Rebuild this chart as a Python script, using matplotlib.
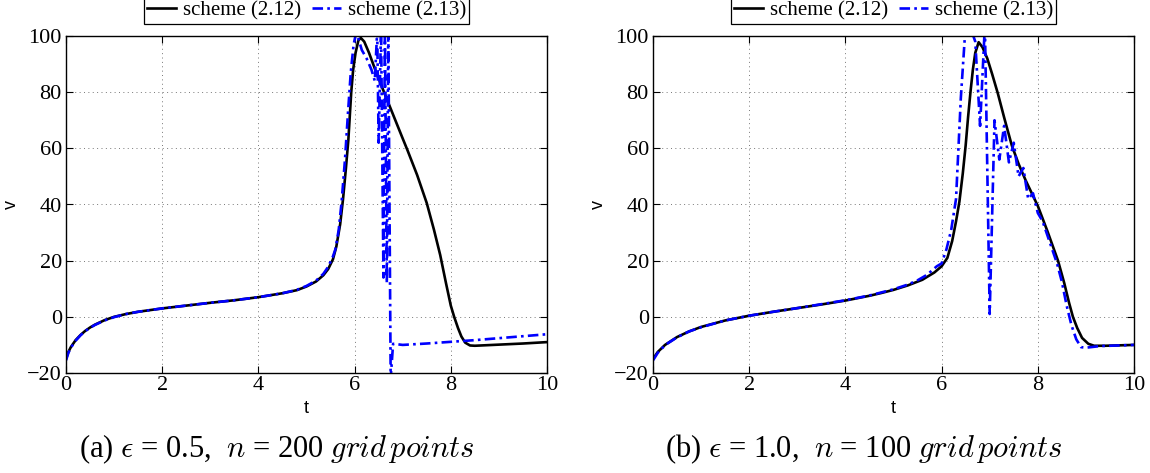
import matplotlib
matplotlib.use('Agg')
import matplotlib.pyplot as plt

plt.rcParams['font.family'] = ['Liberation Serif', 'DejaVu Serif']
plt.rcParams['mathtext.fontset'] = 'cm'

# panel (a): eps = 0.5, n = 200
t_a_212 = [0, 0.05, 0.1, 0.2, 0.3, 0.4, 0.5, 0.6, 0.8, 1.0, 1.25, 1.5, 2.0, 2.5, 3.0, 3.5, 4.0,
           4.5, 4.8, 5.0, 5.2, 5.35, 5.45, 5.55, 5.62, 5.7, 5.76, 5.82, 5.87, 5.93, 5.97, 6.02,
           6.08, 6.13, 6.2, 6.3, 6.45, 6.6, 6.8, 7.0, 7.1, 7.3, 7.5, 7.65, 7.78, 7.9, 8.0, 8.07,
           8.15, 8.22, 8.3, 8.4, 8.5, 9.0, 9.5, 10]
v_a_212 = [-15, -12.5, -10.8, -8.3, -6.5, -5.0, -3.8, -2.8, -1.2, 0.0, 1.0, 1.8, 3.0, 4.0, 5.0, 5.9, 7.0,
           8.4, 9.5, 10.8, 12.6, 14.8, 17, 20.5, 25, 33, 42, 53, 63, 80, 88, 94,
           98.5, 99.3, 98, 94, 87, 80.5, 72, 63.5, 59.3, 50.5, 40.5, 31, 22, 12, 4, 0,
           -4, -7, -9.2, -10.2, -10.3, -9.9, -9.5, -9.0]

t_a_213 = [0, 0.05, 0.1, 0.2, 0.3, 0.4, 0.5, 0.6, 0.8, 1.0, 1.25, 1.5, 2.0, 2.5, 3.0, 3.5, 4.0,
           4.5, 4.8, 5.0, 5.2, 5.35, 5.45, 5.55, 5.6, 5.67, 5.73, 5.8, 5.86, 5.92, 5.98, 6.03,
           6.08, 6.15, 6.25, 6.35, 6.42, 6.47, 6.5, 6.55, 6.6, 6.63, 6.67, 6.7, 6.75, 6.8,
           7.0, 7.5, 8.0, 8.5, 9.0, 9.5, 10]
v_a_213 = [-15.5, -12.8, -11.0, -8.5, -6.6, -5.1, -3.9, -2.9, -1.3, -0.1, 1.0, 1.8, 3.0, 4.0, 5.0, 5.9, 7.0,
           8.4, 9.6, 11.0, 12.9, 15.3, 17.8, 21.5, 24, 31, 41, 56, 72, 87, 97, 101,
           99, 95, 92, 88, 84, 102, 62, 103, 14, 104, 12, 104, -22, -9.6,
           -10, -9.5, -8.9, -8.3, -7.6, -6.9, -6.2]

# panel (b): eps = 1.0, n = 100
t_b_212 = [0, 0.1, 0.25, 0.5, 0.75, 1.0, 1.5, 2.0, 2.5, 3.0, 3.5, 4.0, 4.5, 4.75, 5.0, 5.3, 5.6,
           5.85, 6.0, 6.12, 6.22, 6.3, 6.37, 6.44, 6.5, 6.55, 6.6, 6.65, 6.7, 6.77, 6.85, 6.95,
           7.05, 7.17, 7.3, 7.46, 7.6, 7.75, 8.0, 8.2, 8.42, 8.55, 8.65, 8.73, 8.82, 8.92, 9.05,
           9.17, 9.4, 10]
v_b_212 = [-15, -12.5, -10, -7.2, -5.2, -3.6, -1.3, 0.4, 1.8, 3.1, 4.4, 5.8, 7.5, 8.5, 9.6, 11.2, 13.2,
           15.8, 18, 21, 27, 34, 41, 51, 61, 71, 80, 88, 94, 97.8, 96, 92,
           86.5, 79.5, 71, 61, 54.5, 48.5, 39.5, 30.5, 20, 12, 5, 0, -4, -7.5, -9.6,
           -10.3, -10.3, -10]

t_b_213 = [0, 0.1, 0.2, 0.3, 0.5, 0.75, 1.0, 1.5, 2.0, 2.5, 3.0, 3.5, 4.0, 4.5, 5.0, 5.3, 5.5,
           5.7, 5.8, 5.9, 6.0, 6.1, 6.2, 6.3, 6.4, 6.5, 6.6, 6.7, 6.8, 6.9, 7.0, 7.1, 7.2,
           7.3, 7.4, 7.5, 7.6, 7.7, 7.8, 7.9, 8.0, 8.1, 8.2, 8.3, 8.4, 8.5, 8.6, 8.7, 8.8,
           8.9, 9.0, 9.1, 9.3, 9.5, 10]
v_b_213 = [-15.5, -12.8, -11, -9.5, -7.3, -5.2, -3.7, -1.3, 0.4, 1.8, 3.1, 4.5, 5.9, 7.6, 9.8, 11.5, 13,
           15, 16.5, 18, 19, 24, 31, 42, 78, 104, 103, 98, 68, 104, 1, 70, 56,
           68, 55, 62, 50, 53, 42, 44, 37, 34, 29, 24, 19, 12.5, 4, -3, -8,
           -10.8, -11, -10.8, -10.4, -10.3, -10]

panels = [
    (t_a_212, v_a_212, t_a_213, v_a_213, r'(a) $\epsilon$ = 0.5,  $n$ = 200 $grid\,points$'),
    (t_b_212, v_b_212, t_b_213, v_b_213, r'(b) $\epsilon$ = 1.0,  $n$ = 100 $grid\,points$'),
]

fig = plt.figure(figsize=(11.5, 4.73), dpi=100)
W, H = 1150, 473
lefts = [66, 653]
for i, (t1, v1, t2, v2, cap) in enumerate(panels):
    x0 = lefts[i]
    ax = fig.add_axes([x0 / W, (H - 373) / H, 481 / W, 337 / H])
    ax.plot(t1, v1, color='black', lw=1.9, label='scheme (2.12)')
    ax.plot(t2, v2, color='blue', lw=1.9, dashes=(4, 1.6, 1, 1.6), label='scheme (2.13)')
    ax.set_xlim(0, 10)
    ax.set_ylim(-20, 100)
    ax.set_xticks(range(0, 11, 2))
    ax.set_yticks(range(-20, 101, 20))
    ax.tick_params(direction='in', top=True, right=True, labelsize=16, length=5, pad=2)
    ax.tick_params(axis='y', pad=3)
    ax.grid(True, color='#777777', linestyle=(0, (1, 3.5)), linewidth=0.7)
    for s in ax.spines.values():
        s.set_linewidth(1.0)
    ax.set_xlabel('t', fontsize=13, family='Liberation Sans', labelpad=4)
    ax.set_ylabel('v', fontsize=13, family='Liberation Sans', labelpad=5)
    leg = ax.legend(loc='lower center', bbox_to_anchor=(0.5, 1.036), borderaxespad=0,
                    ncol=2, fontsize=15, frameon=True, fancybox=False, edgecolor='black',
                    framealpha=1, borderpad=0.15, handlelength=1.4, handletextpad=0.35,
                    columnspacing=0.5)
    leg.get_frame().set_linewidth(0.9)
    fig.text((x0 + 211) / W, 1 - 449 / H, cap, fontsize=22, ha='center', va='center')

fig.savefig('out.png', dpi=100)
